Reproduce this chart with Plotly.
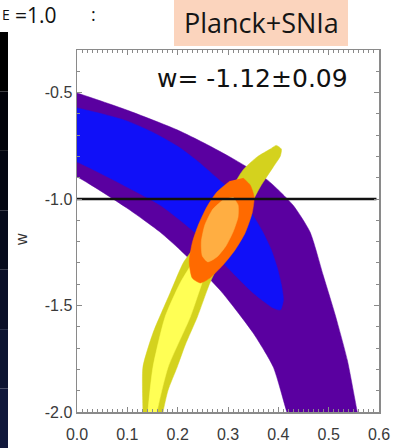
import plotly.graph_objects as go

# ---------------- data ----------------
x_ticks = [0.0, 0.1, 0.2, 0.3, 0.4, 0.5, 0.6]
x_ticktext = ["0.0", "0.1", "0.2", "0.3", "0.4", "0.5", "0.6"]
w_ticks = [-2.0, -1.5, -1.0, -0.5]
w_ticktext = ["-2.0", "-1.5", "-1.0", "-0.5"]

# Planck 2-sigma region (purple) boundary: outer edge then inner edge
planck2_x = [-0.02, 0.0, 0.099, 0.199, 0.264, 0.314, 0.378, 0.429, 0.463, 0.489, 0.513, 0.537, 0.557, 0.563,
             0.427, 0.417, 0.390, 0.350, 0.284, 0.205, 0.165, 0.099, 0.0, -0.02]
planck2_w = [-0.49, -0.502, -0.582, -0.675, -0.751, -0.816, -0.910, -1.028, -1.155, -1.357, -1.544, -1.756, -2.0, -2.06,
             -2.06, -2.0, -1.789, -1.629, -1.427, -1.239, -1.155, -1.042, -0.896, -0.885]

# Planck 1-sigma region (blue)
planck1_x = [-0.02, 0.0, 0.050, 0.099, 0.149, 0.199, 0.239, 0.278, 0.314, 0.344, 0.368, 0.386, 0.398, 0.406, 0.410, 0.404,
             0.390, 0.350, 0.298, 0.233, 0.165, 0.099, 0.0, -0.02]
planck1_w = [-0.563, -0.572, -0.600, -0.633, -0.685, -0.751, -0.821, -0.901, -0.976, -1.056, -1.150, -1.239, -1.324, -1.403, -1.474, -1.521,
             -1.512, -1.441, -1.319, -1.155, -1.028, -0.943, -0.826, -0.815]

# SNIa 2-sigma region (olive yellow)
sn2_x = [0.131, 0.131, 0.131, 0.151, 0.185, 0.211, 0.229, 0.254, 0.288, 0.330, 0.358, 0.384, 0.396, 0.406,
         0.404, 0.390, 0.364, 0.340, 0.314, 0.288, 0.264, 0.239, 0.215, 0.199, 0.181, 0.171, 0.169]
sn2_w = [-2.061, -2.0, -1.789, -1.629, -1.441, -1.300, -1.239, -1.145, -1.028, -0.863, -0.802, -0.765, -0.748, -0.765,
         -0.798, -0.849, -0.943, -1.051, -1.169, -1.277, -1.394, -1.554, -1.685, -1.789, -1.897, -2.0, -2.061]

# SNIa 1-sigma region (bright yellow)
sn1_x = [0.141, 0.141, 0.151, 0.175, 0.205, 0.235, 0.274, 0.314, 0.328, 0.336, 0.324, 0.294, 0.258, 0.225,
         0.181, 0.159, 0.157]
sn1_w = [-2.061, -2.0, -1.789, -1.554, -1.394, -1.277, -1.122, -0.971, -0.924, -0.948, -1.028, -1.169, -1.333, -1.554,
         -1.789, -2.0, -2.061]

# Combined 2-sigma region (orange)
comb2_x = [0.330, 0.344, 0.352, 0.348, 0.334, 0.314, 0.290, 0.264, 0.245, 0.229, 0.223, 0.229, 0.241, 0.258, 0.278, 0.304]
comb2_w = [-0.901, -0.934, -0.990, -1.065, -1.159, -1.239, -1.310, -1.371, -1.394, -1.371, -1.295, -1.206, -1.122, -1.037, -0.967, -0.915]

# Combined 1-sigma region (light orange)
comb1_x = [0.310, 0.320, 0.320, 0.310, 0.296, 0.278, 0.260, 0.249, 0.247, 0.254, 0.270, 0.292]
comb1_w = [-0.990, -1.028, -1.084, -1.155, -1.220, -1.272, -1.295, -1.267, -1.201, -1.122, -1.047, -1.000]

# reference line w = -1
ref_x = [0.0, 0.595]
ref_w = [-1.0, -1.0]

# ---------------- figure ----------------
fig = go.Figure()

def region(xs, ws, color):
    fig.add_trace(go.Scatter(x=xs, y=ws, mode="lines", fill="toself", fillcolor=color,
                             line=dict(color=color, width=0.5, shape="spline", smoothing=0.6),
                             hoverinfo="skip", showlegend=False))

region(planck2_x, planck2_w, "#5A00A0")
region(planck1_x, planck1_w, "#1010F8")
region(sn2_x, sn2_w, "#D4D21E")
region(sn1_x, sn1_w, "#FFFF55")
region(comb2_x, comb2_w, "#FF6A00")
region(comb1_x, comb1_w, "#FFAE42")

fig.add_trace(go.Scatter(x=ref_x, y=ref_w, mode="lines", line=dict(color="#111111", width=2.5),
                         hoverinfo="skip", showlegend=False))

# layout geometry in pixels (plot area 77..379 x, 50..412 y)
L, R, T, B = 77, 379, 50, 412
W_PX, H_PX = R - L, B - T

def px(X):
    return (X - L) / W_PX

def py(Y):
    return (B - Y) / H_PX

tickfont = dict(family="Liberation Sans, Arial, sans-serif", size=16, color="#3a3a3a")
axcol = "#8a8a8a"

x_minor = [round(0.01 * i, 2) for i in range(61)]
w_minor = [round(-2.0 + 0.1 * i, 1) for i in range(18)]

fig.update_layout(
    width=393, height=448,
    margin=dict(l=L, r=393 - R, t=T, b=448 - B, autoexpand=False),
    paper_bgcolor="white", plot_bgcolor="white",
    hovermode=False,
    xaxis=dict(range=[0, 0.6], tickmode="array", tickvals=x_ticks, ticktext=x_ticktext, automargin=False,
               showgrid=False, zeroline=False, showline=True, linecolor=axcol, linewidth=1.5,
               mirror="allticks", ticks="inside", ticklen=5, tickcolor=axcol, tickwidth=1,
               minor=dict(tickmode="array", tickvals=x_minor, ticks="inside", ticklen=3,
                          tickcolor=axcol, tickwidth=1, showgrid=False),
               tickfont=tickfont, ticklabelstandoff=7),
    yaxis=dict(range=[-2.0, -0.3], tickmode="array", tickvals=w_ticks, ticktext=w_ticktext, automargin=False,
               showgrid=False, zeroline=False, showline=True, linecolor=axcol, linewidth=1.5,
               mirror="allticks", ticks="inside", ticklen=5, tickcolor=axcol, tickwidth=1,
               minor=dict(tickmode="array", tickvals=w_minor, ticks="inside", ticklen=3,
                          tickcolor=axcol, tickwidth=1, showgrid=False),
               tickfont=tickfont),
)

# dark slide strip on the left (gradient black -> navy)
strip_cols = ["#000000", "#02030a", "#040712", "#070b1c", "#0a0f27", "#0d1431", "#11183b"]
y_top, y_bot = 32, 448
n = len(strip_cols)
for i, c in enumerate(strip_cols):
    y0 = y_top + (y_bot - y_top) * i / n
    y1 = y_top + (y_bot - y_top) * (i + 1) / n
    fig.add_shape(type="rect", xref="paper", yref="paper", x0=px(0), x1=px(8), y0=py(y1), y1=py(y0),
                  fillcolor=c, line=dict(width=0), layer="above")

# peach label box
fig.add_shape(type="rect", xref="paper", yref="paper", x0=px(174), x1=px(348), y0=py(46), y1=py(-2),
              fillcolor="#FBD4BD", line=dict(width=0), layer="below")

title_font = "Open Sans, Lato, sans-serif"
fig.add_annotation(xref="paper", yref="paper", x=px(261), y=py(23), text="Planck+SNIa", showarrow=False,
                   font=dict(family=title_font, size=27, color="#151515"), xanchor="center", yanchor="middle")
fig.add_annotation(xref="paper", yref="paper", x=px(252), y=py(79), text="w= -1.12±0.09", showarrow=False,
                   font=dict(family="DejaVu Sans, sans-serif", size=25, color="#111111"),
                   xanchor="center", yanchor="middle")

# slide text at top-left
fig.add_annotation(xref="paper", yref="paper", x=px(0), y=py(15), text="E", showarrow=False,
                   font=dict(family=title_font, size=14, color="#111111"), xanchor="left", yanchor="middle")
fig.add_annotation(xref="paper", yref="paper", x=px(13), y=py(15), text="=1.0", showarrow=False,
                   font=dict(family=title_font, size=21, color="#111111"), xanchor="left", yanchor="middle")
fig.add_annotation(xref="paper", yref="paper", x=px(93), y=py(14), text=":", showarrow=False,
                   font=dict(family=title_font, size=18, color="#111111"), xanchor="center", yanchor="middle")

# y-axis title
fig.add_annotation(xref="paper", yref="paper", x=px(21), y=py(240), text="w", showarrow=False, textangle=-90,
                   font=dict(family="Liberation Sans, Arial, sans-serif", size=16, color="#333333"),
                   xanchor="center", yanchor="middle")

fig.write_html("out.html", config={"displayModeBar": False, "staticPlot": True},
               post_script="document.body.style.margin='0';document.body.style.padding='0';"
                           "document.documentElement.style.overflow='hidden';")
